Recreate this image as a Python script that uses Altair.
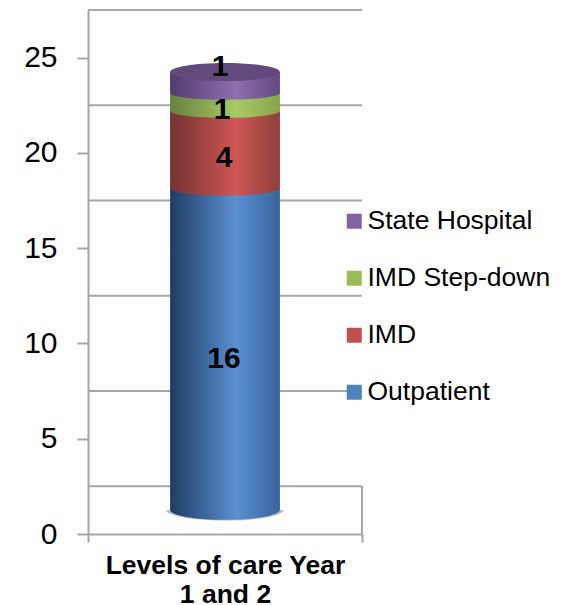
import altair as alt
import pandas as pd

categories = ["Outpatient", "IMD", "IMD Step-down", "State Hospital"]
labels = ["16", "4", "1", "1"]
seg_bottom = [1.26, 18.16, 22.2, 23.15]
seg_top = [18.16, 22.2, 23.15, 24.25]
label_pos = [9.19, 19.75, 22.25, 24.5]
label_shift = [-1, -1, -3, -5]
legend_colors = ["#4f81bd", "#c0504d", "#9bbb59", "#8064a2"]
gridlines = [2.5, 7.5, 12.5, 17.5, 22.5, 27.5]
y_ticks = [0, 5, 10, 15, 20, 25]

# colour ramps across the cylinder: left, highlight, right
ramps = [("#1f3d63", "#5a8fd2", "#38659a"),
         ("#743231", "#cf5756", "#8f3f3c"),
         ("#68803f", "#a9ca62", "#86a44e"),
         ("#523c6e", "#8f6eae", "#624a80")]
cap_ry = [0.18, 0.14, 0.125, 0.125]


def grad(c):
    return alt.Gradient(gradient="linear", x1=0, x2=1, y1=0, y2=0,
                        stops=[alt.GradientStop(offset=0, color=c[0]),
                               alt.GradientStop(offset=0.6, color=c[1]),
                               alt.GradientStop(offset=1, color=c[2])])


def half_ellipse(r):
    return f"M-1,0 A1,{r} 0 0 0 1,0 Z"


X0, X1 = 0.3, 0.7
W = 274
H = 524
CAP = ((X1 - X0) * W) ** 2
GREY = "#a6a6a6"
xs = alt.Scale(domain=[0, 1])
ys = alt.Scale(domain=[0, 27.5])
FONT = "Liberation Sans"

df = pd.DataFrame({"cat": categories, "b": seg_bottom, "t": seg_top,
                   "lab": labels, "pos": label_pos,
                   "x0": X0, "x1": X1, "xc": 0.5})

x_axis = alt.Axis(values=[0, 1], labels=False, grid=False, domainColor=GREY, domainWidth=2,
                  tickColor=GREY, tickWidth=2, tickSize=8,
                  title=["Levels of care Year", "1 and 2"], titleFont=FONT, titleFontSize=26.5,
                  titleFontWeight="bold", titleColor="black", titlePadding=9, titleLineHeight=29)
y_axis = alt.Axis(values=y_ticks, grid=False, title=None, domainColor=GREY, domainWidth=2,
                  tickColor=GREY, tickWidth=2, tickSize=11, labelFont=FONT, labelFontSize=30,
                  labelColor="black", labelPadding=20)


def X(f):
    return alt.X(f, scale=xs, axis=x_axis)


def Y(f):
    return alt.Y(f, scale=ys, axis=y_axis)


grid = alt.Chart(pd.DataFrame({"g": gridlines})).mark_rule(color=GREY, strokeWidth=2).encode(
    y=Y("g:Q"))
side = alt.Chart(pd.DataFrame({"v": [gridlines[0]]})).mark_rule(color=GREY, strokeWidth=2).encode(
    x=alt.value(W), y=Y("v:Q"), y2=alt.value(H))

base = alt.Chart(df).mark_rect().encode(
    x=X("x0:Q"), x2="x1:Q",
    y=Y("b:Q"), y2="t:Q",
    color=alt.Color("cat:N",
                    scale=alt.Scale(domain=categories[::-1], range=legend_colors[::-1]),
                    legend=alt.Legend(title=None, orient="none", legendX=253, legendY=198,
                                      symbolType="square", symbolSize=225, symbolStrokeWidth=0,
                                      symbolOpacity=1, labelFont=FONT, labelFontSize=26.5,
                                      labelColor="black", labelOffset=0, rowPadding=30,
                                      labelLimit=300)))

layers = [grid, side]
shadow = alt.Chart(df.iloc[[0]]).mark_point(
    shape=half_ellipse(0.18), size=(1.07 ** 2) * CAP, filled=True, fill="#8a8a8a",
    opacity=0.55, strokeWidth=0).encode(x=X("xc:Q"), y=Y("b:Q"))
layers.append(shadow)
layers.append(base)
for i in range(4):
    one = alt.Chart(df.iloc[[i]])
    layers.append(one.mark_rect(fill=grad(ramps[i])).encode(
        x=X("x0:Q"), x2="x1:Q", y=Y("b:Q"), y2="t:Q"))
    layers.append(one.mark_point(shape=half_ellipse(cap_ry[i]), size=CAP, filled=True,
                                 fill=grad(ramps[i]), opacity=1, strokeWidth=0).encode(
        x=X("xc:Q"), y=Y("b:Q")))
top = alt.Chart(df.iloc[[3]]).mark_point(
    shape="M-1,0 A1,0.165 0 1 1 1,0 A1,0.165 0 1 1 -1,0 Z", size=CAP, filled=True,
    fill="#634a7c", opacity=1, strokeWidth=0).encode(x=X("xc:Q"), y=Y("t:Q"))
layers.append(top)
for i in range(4):
    layers.append(alt.Chart(df.iloc[[i]]).mark_text(
        font=FONT, fontSize=30, fontWeight="bold", color="black", baseline="middle",
        align="center", dx=label_shift[i]).encode(x=X("xc:Q"), y=Y("pos:Q"), text="lab:N"))

chart = alt.layer(*layers).resolve_scale(x="shared", y="shared").properties(
    width=W, height=H, autosize=alt.AutoSizeParams(type="none"),
    padding={"left": 80, "top": 2, "right": 195, "bottom": 71},
).configure_view(stroke=None)

chart.save("out.html", embed_options={"renderer": "svg", "actions": False})
